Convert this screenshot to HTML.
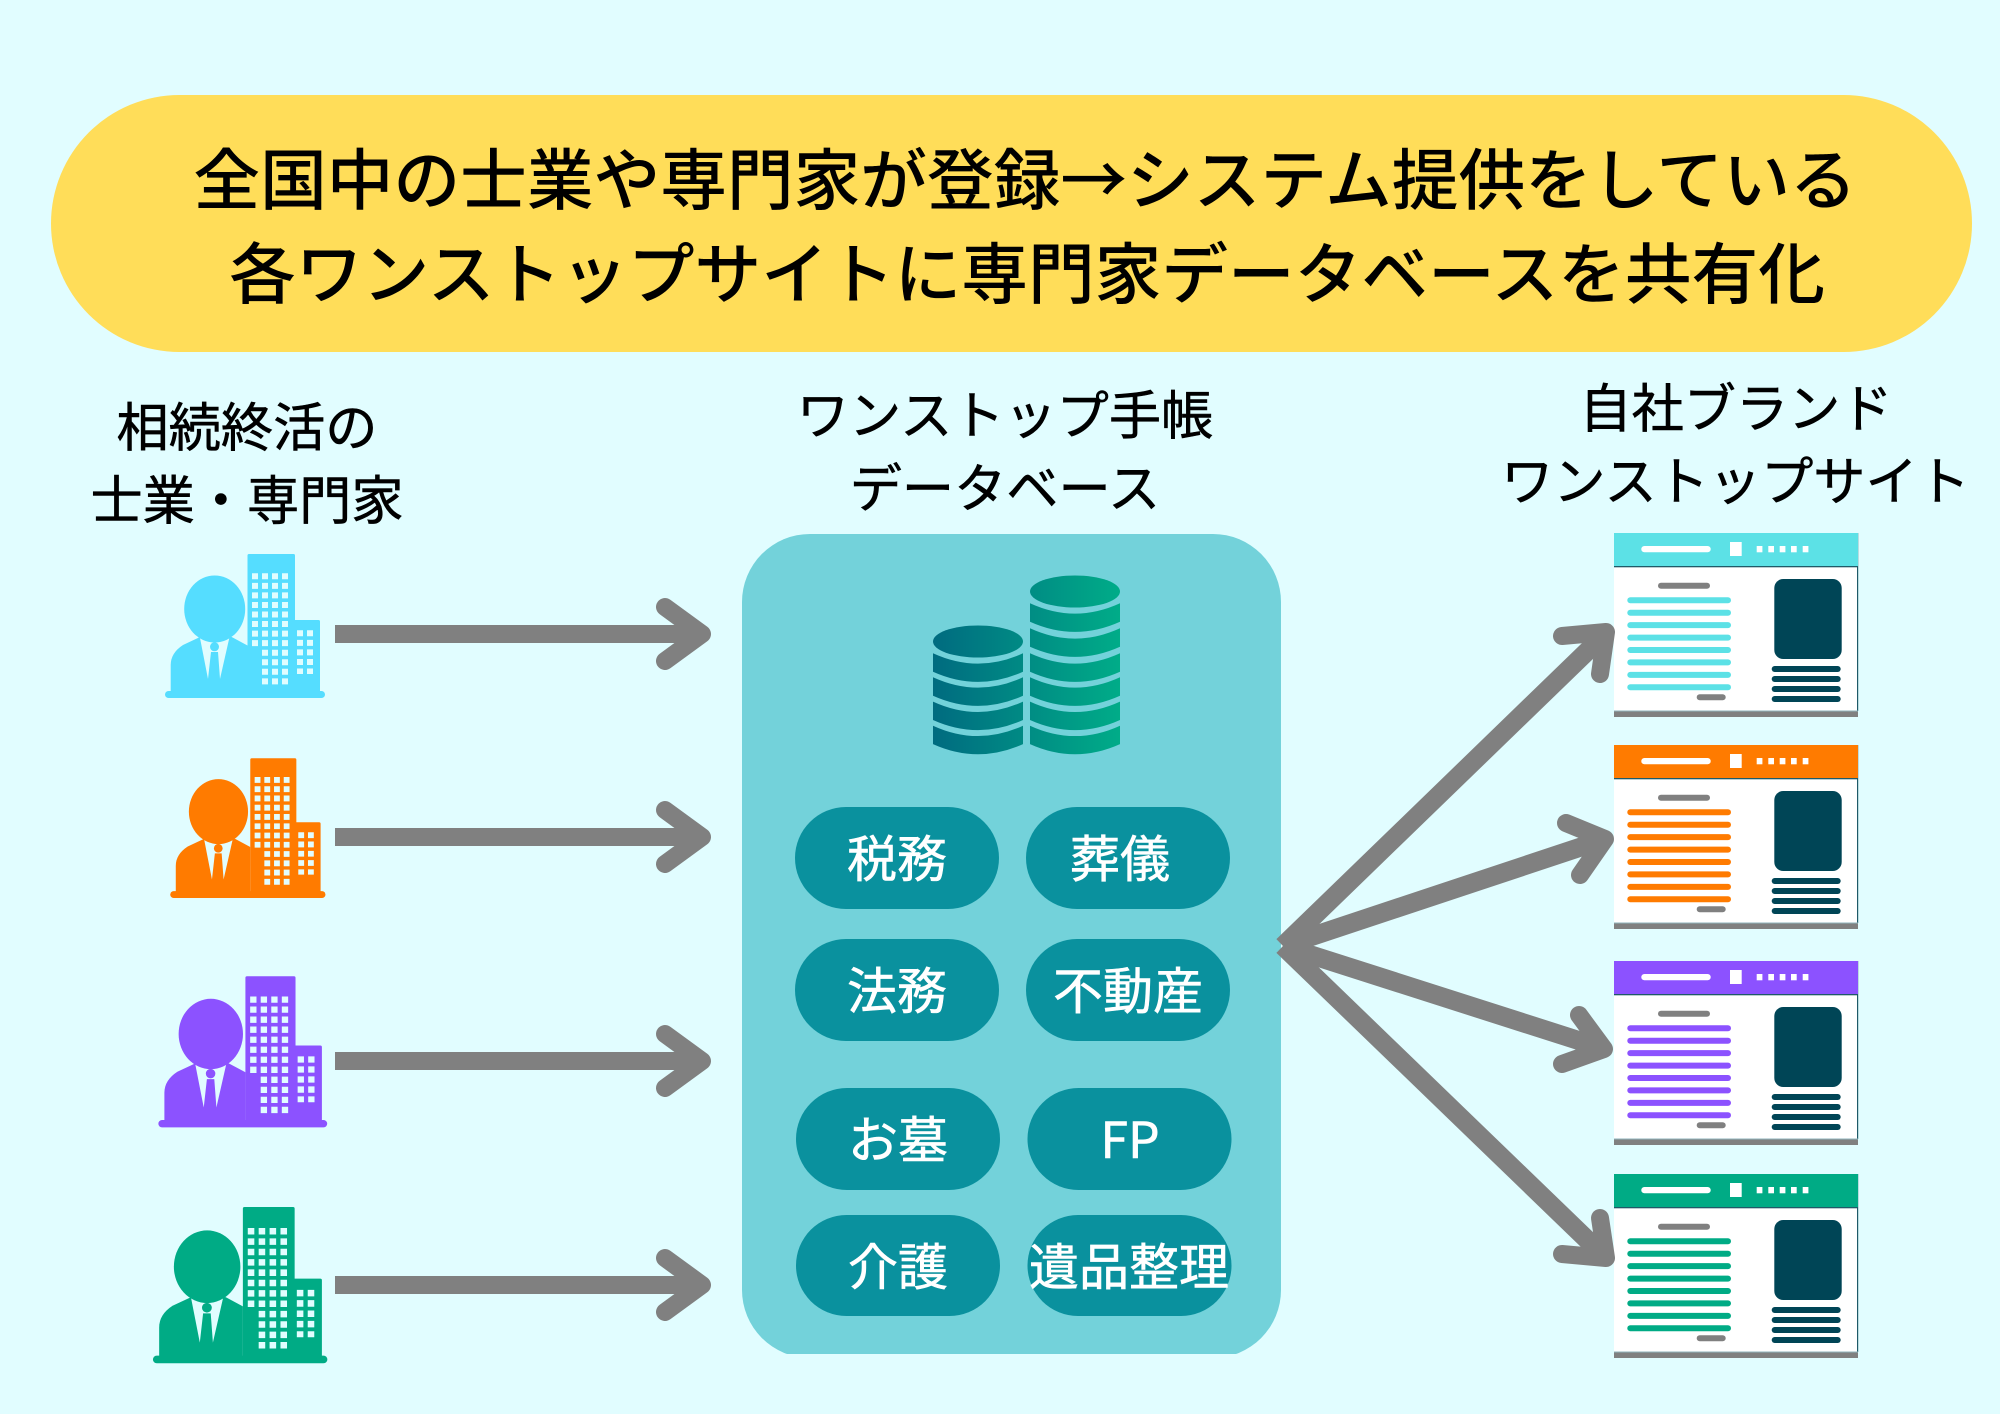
<!DOCTYPE html>
<html lang="ja"><head><meta charset="utf-8"><title>専門家データベース</title>
<style>
html,body{margin:0;padding:0;background:#E1FDFF}
svg{display:block}
text{font-family:"Liberation Sans","Noto Sans CJK JP",sans-serif;text-anchor:middle}
.h{font-size:66.700px;fill:#000;font-weight:500;font-family:"Noto Sans CJK JP",sans-serif}
.l{font-size:52.200px;fill:#000;stroke:#000;stroke-width:.6px;font-family:"Noto Sans CJK JP",sans-serif}
.p{font-size:50px;fill:#fff;stroke:#fff;stroke-width:.6px;font-family:"Noto Sans CJK JP",sans-serif}
</style></head><body>
<svg xmlns="http://www.w3.org/2000/svg" width="2000" height="1414" viewBox="0 0 2000 1414">
<defs>
<linearGradient id="db" gradientUnits="userSpaceOnUse" x1="933" y1="0" x2="1120" y2="0"><stop offset="0" stop-color="#006B80"/><stop offset="1" stop-color="#00AC88"/></linearGradient>
<clipPath id="pc"><rect x="0" y="0" width="2000" height="1354"/></clipPath>
<g id="icon">
<rect x="25" y="161" width="160" height="7" rx="3.500"/>
<path d="M107.500 25.500q0-1.500 1.500-1.500H153.500q1.500 0 1.500 1.500V90H178.500q1.500 0 1.500 1.500V165H107.500Z"/>
<path d="M30.700 165V135Q30.700 123 43 115L60 107H91.700L107.500 115.500V165Z"/>
<polygon fill="#E1FDFF" points="60,108 68,149 71,122 78,122 80,149 89.300,108"/>
<circle cx="74.500" cy="116.800" r="4.500"/>
<ellipse cx="74.700" cy="79" rx="30.500" ry="33.500"/>
<g fill="none" stroke="#E1FDFF" stroke-width="6" stroke-dasharray="6 3.550">
<line x1="115" y1="43.300" x2="115" y2="116.200"/>
<line x1="125" y1="43.300" x2="125" y2="154.400"/>
<line x1="135" y1="43.300" x2="135" y2="154.400"/>
<line x1="145" y1="43.300" x2="145" y2="154.400"/>
<line x1="160" y1="100.300" x2="160" y2="144"/>
<line x1="170" y1="100.300" x2="170" y2="144"/>
</g>
</g>
<g id="screen">
<rect x="0" y="177" width="244" height="7" fill="#808080"/>
<rect x="0" y="0" width="244" height="178" fill="#fff"/>
<rect x="243" y="0" width="1.200" height="178" fill="#1F5A68"/>
<rect x="0" y="177.500" width="244" height="1" fill="#8FB3BB"/>
<rect x="0" y="0" width="244" height="33"/>
<rect x="0" y="33" width="244" height="1.300" fill="#1F5A68"/>
<rect x="27.300" y="13" width="69.400" height="6.300" rx="3.100" fill="#fff"/>
<rect x="116" y="9" width="11.700" height="14" fill="#fff"/>
<g fill="#fff"><rect x="142.700" y="13" width="5.700" height="6.300"/><rect x="154.300" y="13" width="5.700" height="6.300"/><rect x="165.700" y="13" width="5.700" height="6.300"/><rect x="177" y="13" width="5.700" height="6.300"/><rect x="188.700" y="13" width="5.700" height="6.300"/></g>
<rect x="44" y="49.700" width="52" height="6" rx="3" fill="#808080"/>
<rect x="13.300" y="64.300" width="103.700" height="6" rx="3"/>
<rect x="13.300" y="76.700" width="103.700" height="6" rx="3"/>
<rect x="13.300" y="89.100" width="103.700" height="6" rx="3"/>
<rect x="13.300" y="101.600" width="103.700" height="6" rx="3"/>
<rect x="13.300" y="114" width="103.700" height="6" rx="3"/>
<rect x="13.300" y="126.400" width="103.700" height="6" rx="3"/>
<rect x="13.300" y="138.900" width="103.700" height="6" rx="3"/>
<rect x="13.300" y="151.300" width="103.700" height="6" rx="3"/>
<rect x="82.700" y="161.300" width="29" height="6" rx="3" fill="#808080"/>
<rect x="160.300" y="46" width="67.400" height="80" rx="9" fill="#004556"/>
<g fill="#004556"><rect x="157.700" y="133" width="69" height="6" rx="3"/><rect x="157.700" y="143" width="69" height="6" rx="3"/><rect x="157.700" y="153" width="69" height="6" rx="3"/><rect x="157.700" y="163" width="69" height="6" rx="3"/></g>
</g>
<path id="segL" d="M933 603.300Q978 624 1023 603.300V621.700Q978 642 933 621.700Z"/>
<path id="segR" d="M1030 603.300Q1075 624 1120 603.300V621.700Q1075 642 1030 621.700Z"/>
</defs>

<rect width="2000" height="1414" fill="#E1FDFF"/>
<rect x="51" y="95" width="1921" height="257" rx="128.500" fill="#FFDD59"/>
<text class="h" x="1025" y="204">全国中の士業や専門家が登録→システム提供をしている</text>
<text class="h" x="1027" y="298">各ワンストップサイトに専門家データベースを共有化</text>

<text class="l" x="247" y="446">相続終活の</text>
<text class="l" x="247" y="519">士業・専門家</text>
<text class="l" x="1005" y="434">ワンストップ手帳</text>
<text class="l" x="1005" y="507">データベース</text>
<text class="l" x="1736" y="427">自社ブランド</text>
<text class="l" x="1735.500" y="500">ワンストップサイト</text>

<use href="#icon" transform="translate(140 530)" fill="#55DDFF"/>
<use href="#icon" transform="translate(146 735) scale(.97 .97)" fill="#FF7B00"/>
<use href="#icon" transform="translate(132 951) scale(1.055 1.05)" fill="#8C52FF"/>
<use href="#icon" transform="translate(125.700 1181) scale(1.090 1.085)" fill="#00AB85"/>

<g fill="none" stroke="#808080" stroke-width="18" stroke-linejoin="round" stroke-linecap="round">
<line x1="335" y1="634" x2="700" y2="634" stroke-linecap="butt"/><polyline points="665,607 702,634 665,661"/>
<line x1="335" y1="837" x2="700" y2="837" stroke-linecap="butt"/><polyline points="665,810 702,837 665,864"/>
<line x1="335" y1="1061" x2="700" y2="1061" stroke-linecap="butt"/><polyline points="665,1034 702,1061 665,1088"/>
<line x1="335" y1="1285" x2="700" y2="1285" stroke-linecap="butt"/><polyline points="665,1258 702,1285 665,1312"/>
</g>

<rect x="742" y="534" width="539" height="824" rx="68" fill="#73D2DA" clip-path="url(#pc)"/>

<g fill="url(#db)">
<ellipse cx="978" cy="641.500" rx="45" ry="16"/>
<ellipse cx="1075" cy="591.500" rx="45" ry="16"/>
<use href="#segR"/><use href="#segR" y="25"/><use href="#segR" y="50"/><use href="#segR" y="74"/><use href="#segR" y="98.300"/><use href="#segR" y="122.400"/>
<use href="#segL" y="50"/><use href="#segL" y="74"/><use href="#segL" y="98.300"/><use href="#segL" y="122.400"/>
</g>

<g fill="#0A919E">
<rect x="795" y="807" width="204" height="102" rx="51"/>
<rect x="1026" y="807" width="204" height="102" rx="51"/>
<rect x="795" y="939" width="204" height="102" rx="51"/>
<rect x="1026" y="939" width="204" height="102" rx="51"/>
<rect x="796" y="1088" width="204" height="102" rx="51"/>
<rect x="1027.500" y="1088" width="204" height="102" rx="51"/>
<rect x="796" y="1215" width="204" height="101" rx="50.500"/>
<rect x="1027.500" y="1215" width="204" height="101" rx="50.500"/>
</g>
<text class="p" x="897" y="877">税務</text>
<text class="p" x="1120" y="877">葬儀</text>
<text class="p" x="897" y="1009">法務</text>
<text class="p" x="1128" y="1009">不動産</text>
<text class="p" x="898" y="1158">お墓</text>
<text class="p" x="1130" y="1158">FP</text>
<text class="p" x="898" y="1285">介護</text>
<text class="p" x="1129" y="1285">遺品整理</text>

<use href="#screen" transform="translate(1614 533)" fill="#5CE1E6"/>
<use href="#screen" transform="translate(1614 745)" fill="#FF7B00"/>
<use href="#screen" transform="translate(1614 961)" fill="#8C52FF"/>
<use href="#screen" transform="translate(1614 1174)" fill="#00AB85"/>

<g fill="none" stroke="#808080" stroke-width="19">
<line x1="1283" y1="946" x2="1604" y2="635"/>
<line x1="1283" y1="946" x2="1602" y2="840"/>
<line x1="1283" y1="946" x2="1602" y2="1048"/>
<line x1="1283" y1="946" x2="1604" y2="1256"/>
</g>
<g fill="none" stroke="#808080" stroke-width="18" stroke-linejoin="round" stroke-linecap="round">
<polyline points="1562,636 1606,632 1600,674"/>
<polyline points="1566,823 1605,839 1580,875"/>
<polyline points="1562,1064 1604,1049 1579,1015"/>
<polyline points="1562,1254 1606,1258 1600,1218"/>
</g>
</svg>
</body></html>
